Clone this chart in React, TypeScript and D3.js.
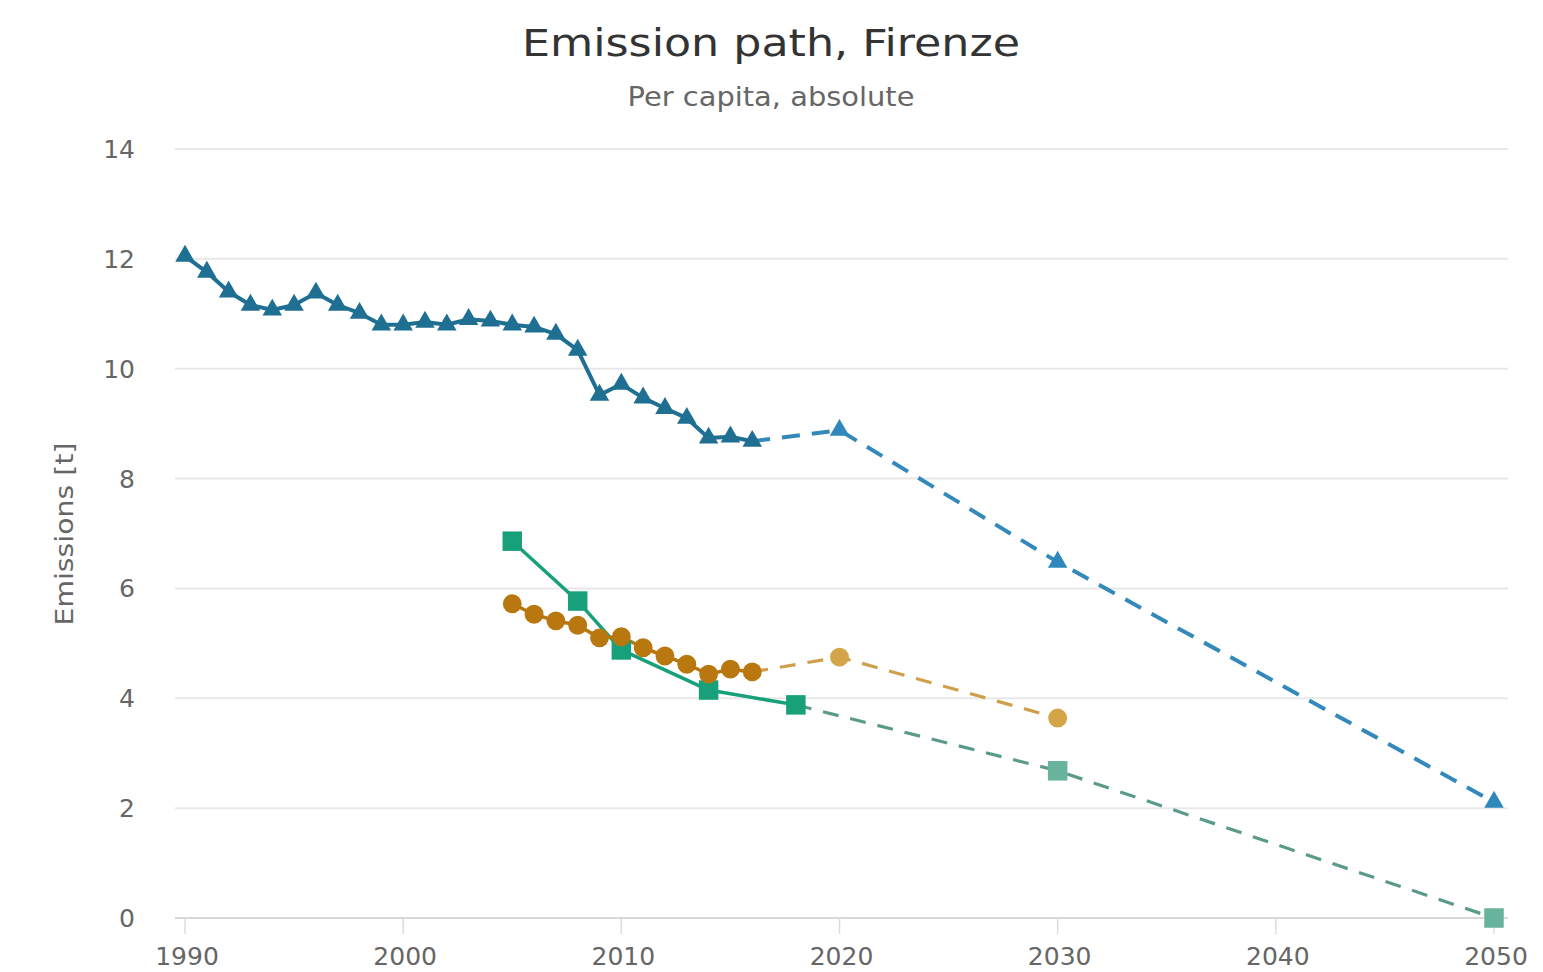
import React, { useEffect, useRef } from 'react';
import * as d3 from 'd3';

// Emission per capita, Firenze (t)
const blueYears = [1990, 1991, 1992, 1993, 1994, 1995, 1996, 1997, 1998, 1999, 2000, 2001, 2002, 2003, 2004, 2005, 2006, 2007, 2008, 2009, 2010, 2011, 2012, 2013, 2014, 2015, 2016];
const blueValues = [12.05, 11.76, 11.4, 11.16, 11.07, 11.16, 11.38, 11.16, 11.01, 10.8, 10.8, 10.85, 10.8, 10.9, 10.87, 10.8, 10.76, 10.63, 10.34, 9.52, 9.72, 9.47, 9.28, 9.1, 8.74, 8.76, 8.68];
const blueTargetYears = [2016, 2020, 2030, 2050];
const blueTargetValues = [8.68, 8.88, 6.48, 2.11];

const orangeYears = [2005, 2006, 2007, 2008, 2009, 2010, 2011, 2012, 2013, 2014, 2015, 2016];
const orangeValues = [5.72, 5.53, 5.41, 5.33, 5.1, 5.12, 4.92, 4.77, 4.62, 4.44, 4.53, 4.48];
const orangeTargetYears = [2016, 2020, 2030];
const orangeTargetValues = [4.48, 4.75, 3.64];

const greenYears = [2005, 2008, 2010, 2014, 2018];
const greenValues = [6.86, 5.77, 4.88, 4.15, 3.88];
const greenTargetYears = [2018, 2030, 2050];
const greenTargetValues = [3.88, 2.68, 0];

const xTicks = [1990, 2000, 2010, 2020, 2030, 2040, 2050];
const yTicks = [0, 2, 4, 6, 8, 10, 12, 14];

const W = 1543;
const H = 972;

const zip = (xs: number[], ys: number[]) => xs.map((x, i) => ({ x, y: ys[i] }));

const App = () => {
  const svgRef = useRef<SVGSVGElement | null>(null);

  useEffect(() => {
    const svg = d3.select(svgRef.current);
    svg.selectAll('*').remove();

    const font = "'DejaVu Sans', 'Noto Sans', sans-serif";

    const xScale = d3.scaleLinear().domain([1990, 2050]).range([185, 1494]);
    const yScale = d3.scaleLinear().domain([0, 14]).range([918, 149]);

    // Title
    svg.append('text')
      .attr('x', 771).attr('y', 56)
      .attr('text-anchor', 'middle')
      .style('font-family', font).style('font-size', '37px')
      .attr('textLength', 498).attr('lengthAdjust', 'spacingAndGlyphs')
      .style('fill', '#333')
      .text('Emission path, Firenze');

    svg.append('text')
      .attr('x', 771).attr('y', 106)
      .attr('text-anchor', 'middle')
      .style('font-family', font).style('font-size', '27px')
      .attr('textLength', 287).attr('lengthAdjust', 'spacingAndGlyphs')
      .style('fill', '#666')
      .text('Per capita, absolute');

    // Grid
    svg.append('g')
      .selectAll('line')
      .data(yTicks)
      .join('line')
      .attr('x1', 175).attr('x2', 1508)
      .attr('y1', d => yScale(d)).attr('y2', d => yScale(d))
      .style('stroke', d => (d === 0 ? '#d8d8d8' : '#e8e8e8'))
      .style('stroke-width', 2);

    // x tick marks
    svg.append('g')
      .selectAll('line')
      .data(xTicks)
      .join('line')
      .attr('x1', d => xScale(d)).attr('x2', d => xScale(d))
      .attr('y1', 918).attr('y2', 934)
      .style('stroke', '#dcdcdc')
      .style('stroke-width', 1.5);

    // y labels
    svg.append('g')
      .selectAll('text')
      .data(yTicks)
      .join('text')
      .attr('x', 135).attr('y', d => yScale(d) + 9)
      .attr('text-anchor', 'end')
      .style('font-family', font).style('font-size', '25px')
      .style('fill', '#666')
      .text(d => d);

    // x labels
    svg.append('g')
      .selectAll('text')
      .data(xTicks)
      .join('text')
      .attr('x', d => xScale(d) + 2).attr('y', 965)
      .attr('text-anchor', 'middle')
      .style('font-family', font).style('font-size', '25px')
      .style('fill', '#666')
      .text(d => d);

    // Axis title
    svg.append('text')
      .attr('transform', 'translate(73,534) rotate(-90)')
      .attr('text-anchor', 'middle')
      .style('font-family', font).style('font-size', '24px')
      .attr('textLength', 183).attr('lengthAdjust', 'spacingAndGlyphs')
      .style('fill', '#666')
      .text('Emissions [t]');

    const line = d3.line<{ x: number; y: number }>()
      .x(d => xScale(d.x))
      .y(d => yScale(d.y));

    const drawLine = (pts: { x: number; y: number }[], color: string, width: number, dash?: string) => {
      svg.append('path')
        .datum(pts)
        .attr('d', line)
        .style('fill', 'none')
        .style('stroke', color)
        .style('stroke-width', width)
        .style('stroke-linejoin', 'round')
        .style('stroke-dasharray', dash || null);
    };

    const drawMarkers = (pts: { x: number; y: number }[], type: d3.SymbolType, size: number, color: string) => {
      svg.append('g')
        .selectAll('path')
        .data(pts)
        .join('path')
        .attr('transform', d => `translate(${xScale(d.x)},${yScale(d.y)})`)
        .attr('d', d3.symbol().type(type).size(size)())
        .style('fill', color);
    };

    // Target (dashed) lines
    drawLine(zip(blueTargetYears, blueTargetValues), '#3489bb', 4, '18,12');
    drawLine(zip(orangeTargetYears, orangeTargetValues), '#d09f4c', 3.2, '16,12');
    drawLine(zip(greenTargetYears, greenTargetValues), '#5a9a8a', 3.2, '16,12');

    // Actual lines
    drawLine(zip(blueYears, blueValues), '#1f6f92', 4);
    drawLine(zip(greenYears, greenValues), '#17a07a', 3.5);
    drawLine(zip(orangeYears, orangeValues), '#b8770f', 3.5);

    // Target markers (first point is shared with the measured series)
    drawMarkers(zip(blueTargetYears, blueTargetValues).slice(1), d3.symbolTriangle, 165, '#2f88bb');
    drawMarkers(zip(orangeTargetYears, orangeTargetValues).slice(1), d3.symbolCircle, 280, '#d4a548');
    drawMarkers(zip(greenTargetYears, greenTargetValues).slice(1), d3.symbolSquare, 380, '#67b39b');

    // Measured markers
    drawMarkers(zip(blueYears, blueValues), d3.symbolTriangle, 165, '#1f6f92');
    drawMarkers(zip(greenYears, greenValues), d3.symbolSquare, 380, '#17a07a');
    drawMarkers(zip(orangeYears, orangeValues), d3.symbolCircle, 280, '#b8770f');
  }, []);

  return (
    <div style={{ position: 'absolute', left: 0, top: 0, width: W, height: H, background: '#fff' }}>
      <svg ref={svgRef} width={W} height={H} />
    </div>
  );
};

export default App;
